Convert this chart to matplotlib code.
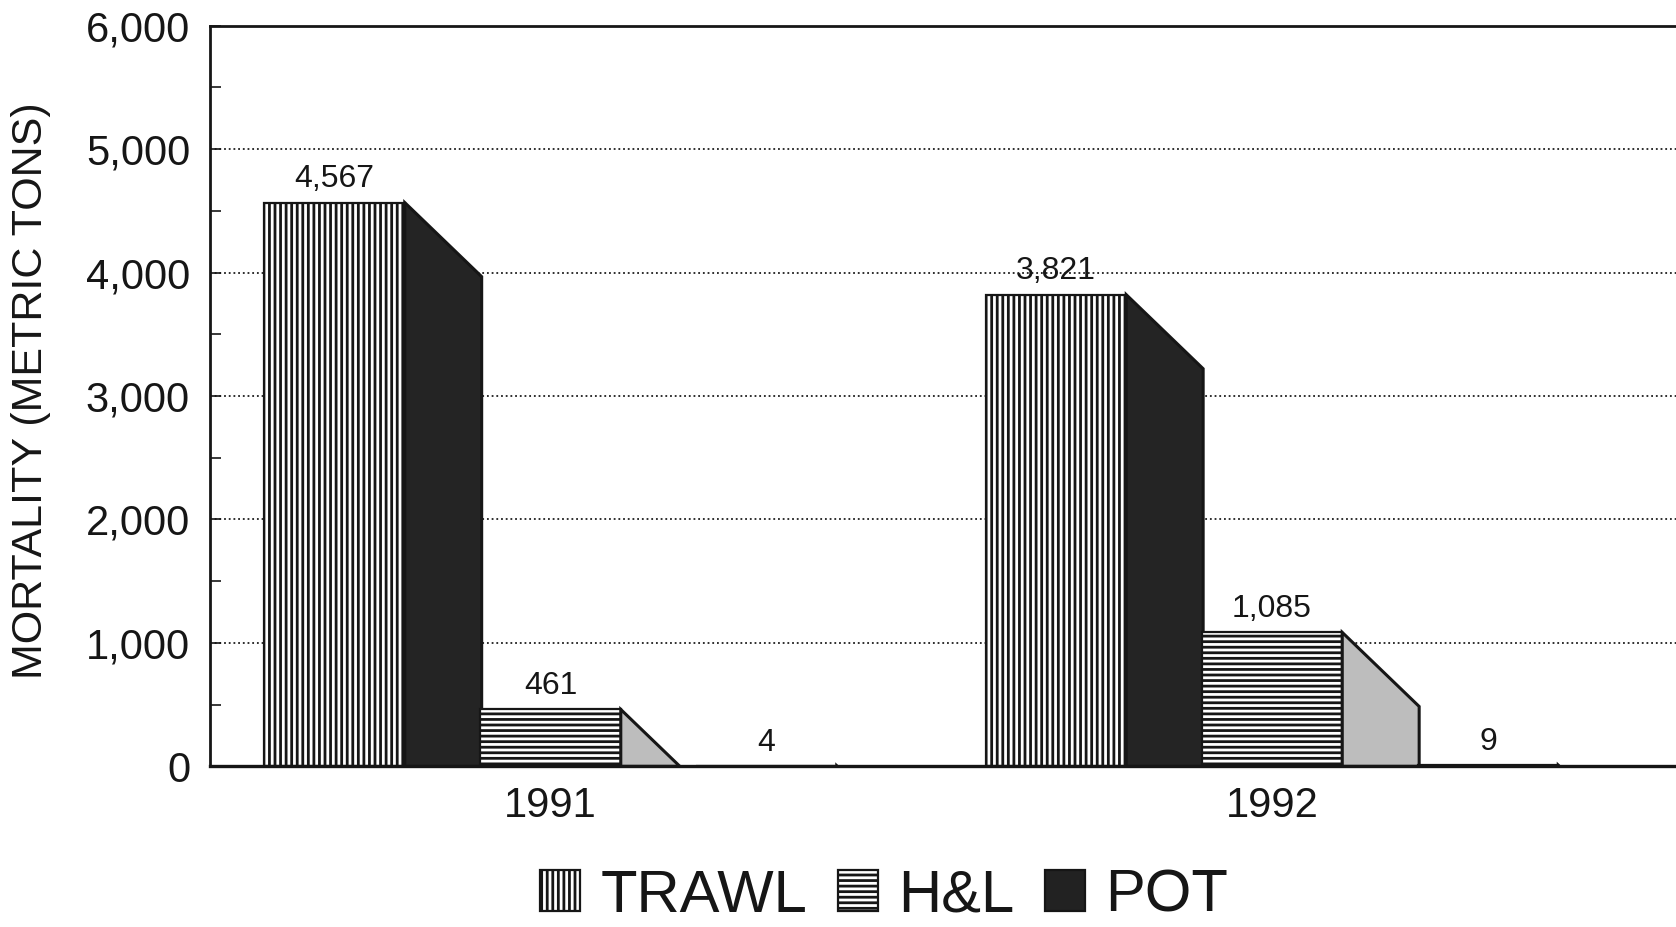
import matplotlib
matplotlib.use("Agg")
import matplotlib.pyplot as plt
from matplotlib.patches import Polygon, Patch
from matplotlib.ticker import FuncFormatter, MultipleLocator

# ---- data ----
years = ["1991", "1992"]
gears = ["TRAWL", "H&L", "POT"]
trawl = [4567, 3821]
hook_line = [461, 1085]
pot = [4, 9]
value_labels = [["4,567", "461", "4"], ["3,821", "1,085", "9"]]

# ---- styling ----
plt.rcParams["font.family"] = ["Liberation Sans", "DejaVu Sans"]
plt.rcParams["hatch.linewidth"] = 2.0
ink = "#161616"
front_style = {
    "TRAWL": dict(facecolor="white", hatch="|||"),
    "H&L": dict(facecolor="white", hatch="---"),
    "POT": dict(facecolor="#222222", hatch=None),
}
side_color = {"TRAWL": "#242424", "H&L": "#bdbdbd", "POT": "#242424"}

fig = plt.figure(figsize=(16.76, 9.27), dpi=100)
ax = fig.add_axes([0.125, 0.1733, 0.875, 0.799])

group_gap = 3.34      # distance between year groups, in bar slots
bar_w = 0.65          # front-face width, in bar slots
depth_x = 0.356       # horizontal depth of the side face
depth_y = 600         # vertical drop of the side face (value units)

series = [trawl, hook_line, pot]
for g, year in enumerate(years):
    center = g * group_gap
    for k, gear in enumerate(gears):
        v = series[k][g]
        xc = center + (k - 1)
        x1 = xc + bar_w / 2
        st = front_style[gear]
        ax.bar(xc, v, width=bar_w, facecolor=st["facecolor"], hatch=st["hatch"],
               edgecolor=ink, linewidth=1.6, zorder=2)
        # sloping side face, clipped at the baseline
        if v > depth_y:
            pts = [(x1, v), (x1 + depth_x, v - depth_y), (x1 + depth_x, 0), (x1, 0)]
        else:
            pts = [(x1, v), (x1 + depth_x * v / depth_y, 0), (x1, 0)]
        ax.add_patch(Polygon(pts, closed=True, facecolor=side_color[gear],
                             edgecolor=ink, linewidth=2.2, joinstyle="miter", zorder=2))
        ax.annotate(value_labels[g][k], (xc, v), xytext=(0, 6),
                    textcoords="offset points", ha="center", va="bottom",
                    fontsize=23, color=ink, zorder=4)

# dotted grid behind the bars
for yv in range(1000, 6000, 1000):
    ax.axhline(yv, color="#1e1e1e", linestyle=(0, (1, 1.6)), linewidth=1.3, zorder=0.5)

ax.set_xlim(-1.579, 5.21)
ax.set_ylim(0, 6000)
ax.set_xticks([g * group_gap for g in range(len(years))])
ax.set_xticklabels(years)
ax.yaxis.set_major_locator(MultipleLocator(1000))
ax.yaxis.set_minor_locator(MultipleLocator(500))
ax.yaxis.set_major_formatter(FuncFormatter(lambda v, p: f"{int(v):,}"))

ax.tick_params(axis="y", which="both", direction="in", length=8, width=1.2,
               color=ink, labelsize=30, labelcolor=ink, pad=14)
ax.tick_params(axis="x", which="major", direction="in", length=11, width=1.2,
               color=ink, labelsize=30, labelcolor=ink, pad=14)

for side in ["left", "bottom", "top"]:
    ax.spines[side].set_color(ink)
    ax.spines[side].set_linewidth(2.0)
ax.spines["bottom"].set_linewidth(2.4)
ax.spines["right"].set_visible(False)

ax.set_ylabel("MORTALITY (METRIC TONS)", fontsize=31, color=ink)
ax.yaxis.set_label_coords(-0.108, 0.507)

handles = [Patch(facecolor=front_style[g]["facecolor"], hatch=front_style[g]["hatch"],
                 edgecolor=ink, linewidth=1.6) for g in gears]
fig.legend(handles, gears, loc="center", bbox_to_anchor=(0.5275, 0.033), ncol=3,
           frameon=False, fontsize=43, handlelength=0.68, handleheight=0.68,
           handletextpad=0.34, columnspacing=0.5, borderpad=0, labelcolor=ink)

fig.savefig("out.png", dpi=100, facecolor="white")
